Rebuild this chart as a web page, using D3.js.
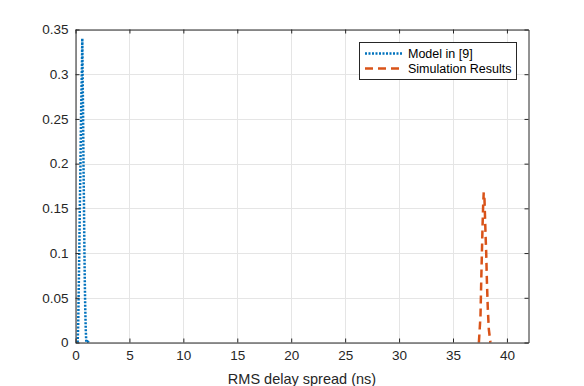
<!DOCTYPE html>
<html><head><meta charset="utf-8">
<script src="https://cdn.jsdelivr.net/npm/d3@7"></script>
<style>
body{margin:0;background:#fff;}
text{font-family:"Liberation Sans",Arial,Helvetica,sans-serif;}
</style></head>
<body><svg id="c" width="584" height="386"></svg>
<script>
const xTicks=[0,5,10,15,20,25,30,35,40];
const yTicks=[0,0.05,0.1,0.15,0.2,0.25,0.3,0.35];
const seriesNames=["Model in [9]","Simulation Results"];
const modelX=[0.2,0.25,0.3,0.35,0.4,0.45,0.5,0.55,0.6,0.63,0.66,0.7,0.74,0.78,0.82,0.86,0.9,0.95,1.0,1.1,1.2];
const modelY=[0,0.02,0.06,0.1,0.15,0.19,0.24,0.28,0.31,0.34,0.3,0.26,0.2,0.16,0.11,0.07,0.04,0.015,0,0.003,0];
const simX=[37.4,37.55,37.62,37.68,37.74,37.8,37.85,37.92,37.97,38.02,38.08,38.14,38.22,38.32,38.47];
const simY=[0,0.03,0.07,0.1,0.13,0.155,0.168,0.16,0.14,0.12,0.1,0.07,0.04,0.015,0];

const svg=d3.select("#c");
const L=75.5,R=528.5,T=29.5,B=342.5;
const x=d3.scaleLinear().domain([0,42]).range([L,R]);
const y=d3.scaleLinear().domain([0,0.35]).range([B,T]);
const axc="#262626";
const g=svg.append("g");
g.selectAll(".gx").data(xTicks).enter().append("line")
 .attr("x1",d=>Math.round(x(d))+0.5).attr("x2",d=>Math.round(x(d))+0.5).attr("y1",T).attr("y2",B).attr("stroke","#e5e5e5").attr("stroke-width",1);
g.selectAll(".gy").data(yTicks).enter().append("line")
 .attr("y1",d=>Math.round(y(d))+0.5).attr("y2",d=>Math.round(y(d))+0.5).attr("x1",L).attr("x2",R).attr("stroke","#e5e5e5").attr("stroke-width",1);

const line=d3.line().x(d=>x(d[0])).y(d=>y(d[1]));
svg.append("path").datum(modelX.map((v,i)=>[v,modelY[i]])).attr("d",line)
 .attr("fill","none").attr("stroke","#0072BD").attr("stroke-width",2.5).attr("stroke-dasharray","2 1.5");
svg.append("path").datum(simX.map((v,i)=>[v,simY[i]])).attr("d",line)
 .attr("fill","none").attr("stroke","#D95319").attr("stroke-width",2.5).attr("stroke-dasharray","8 5");

const xa=d3.axisBottom(x).tickValues(xTicks).tickSizeInner(-4).tickSizeOuter(0).tickPadding(8);
const ya=d3.axisLeft(y).tickValues(yTicks).tickSizeInner(-4).tickSizeOuter(0).tickPadding(7).tickFormat(d=>String(+d.toFixed(2)));
const xg=svg.append("g").attr("transform",`translate(0,${B})`).call(xa);
const yg=svg.append("g").attr("transform",`translate(${L},0)`).call(ya);
[xg,yg].forEach(a=>{a.selectAll("path,line").attr("stroke",axc);a.selectAll("text").attr("fill",axc).attr("font-size",13.5).attr("font-family","Liberation Sans,Arial,sans-serif");});
const xt=svg.append("g").attr("transform",`translate(0,${T})`).call(d3.axisTop(x).tickValues(xTicks).tickSizeInner(-4).tickSizeOuter(0).tickFormat(""));
const yr=svg.append("g").attr("transform",`translate(${R},0)`).call(d3.axisRight(y).tickValues(yTicks).tickSizeInner(-4).tickSizeOuter(0).tickFormat(""));
[xt,yr].forEach(a=>a.selectAll("path,line").attr("stroke",axc));

svg.append("text").attr("x",(L+R)/2).attr("y",384).attr("text-anchor","middle").attr("font-size",14.5).attr("fill",axc).text("RMS delay spread (ns)");

const lg=svg.append("g");
lg.append("rect").attr("x",359.5).attr("y",42.5).attr("width",157).attr("height",37).attr("fill","#fff").attr("stroke",axc).attr("stroke-width",1);
const styles=[{c:"#0072BD",d:"2 1.5"},{c:"#D95319",d:"8 5"}];
seriesNames.forEach((n,i)=>{
 const yy=53.5+i*15;
 lg.append("line").attr("x1",365).attr("x2",403).attr("y1",yy).attr("y2",yy).attr("stroke",styles[i].c).attr("stroke-width",2.5).attr("stroke-dasharray",styles[i].d);
 lg.append("text").attr("x",408).attr("y",yy+4.5).attr("font-size",12.5).attr("fill","#000").text(n);
});
</script></body></html>
